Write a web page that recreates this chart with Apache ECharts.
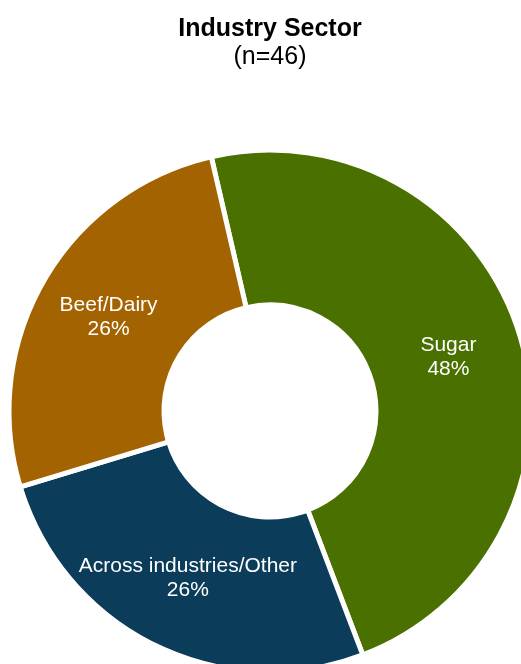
<!DOCTYPE html>
<html>
<head>
<meta charset="utf-8">
<style>
  html, body { margin: 0; padding: 0; background: #ffffff; }
  #chart { width: 521px; height: 664px; }
</style>
<script src="https://cdn.jsdelivr.net/npm/echarts@6/dist/echarts.min.js"></script>
</head>
<body>
<div id="chart"></div>
<script>
// Survey responses by industry sector (n = 46)
const sectors = ['Sugar', 'Across industries/Other', 'Beef/Dairy'];
const counts = [22, 12, 12];
const sectorColors = ['#4a7000', '#0b3c59', '#a36300'];

const total = counts.reduce((a, b) => a + b, 0);
const FONT = 'Liberation Sans, Arial, sans-serif';

const chart = echarts.init(document.getElementById('chart'), null, { renderer: 'canvas' });

chart.setOption({
  animation: false,
  title: [
    {
      text: 'Industry Sector',
      left: 265,
      textAlign: 'center',
      top: 12,
      textStyle: { fontFamily: FONT, fontSize: 25, fontWeight: 'bold', color: '#000000' }
    },
    {
      text: '(n=' + total + ')',
      left: 265,
      textAlign: 'center',
      top: 40,
      textStyle: { fontFamily: FONT, fontSize: 25, fontWeight: 'normal', color: '#000000' }
    }
  ],
  series: [{
    type: 'pie',
    center: [270, 411],
    radius: [106, 261],
    startAngle: 103,
    clockwise: true,
    avoidLabelOverlap: false,
    itemStyle: { borderColor: '#ffffff', borderWidth: 5 },
    label: {
      position: 'inside',
      color: '#ffffff',
      fontFamily: FONT,
      fontSize: 21,
      lineHeight: 24,
      formatter: p => p.name + '\n' + Math.round(p.value / total * 100) + '%'
    },
    labelLine: { show: false },
    emphasis: { disabled: true },
    data: sectors.map((name, i) => ({
      name,
      value: counts[i],
      itemStyle: { color: sectorColors[i] }
    }))
  }]
});
</script>
</body>
</html>
